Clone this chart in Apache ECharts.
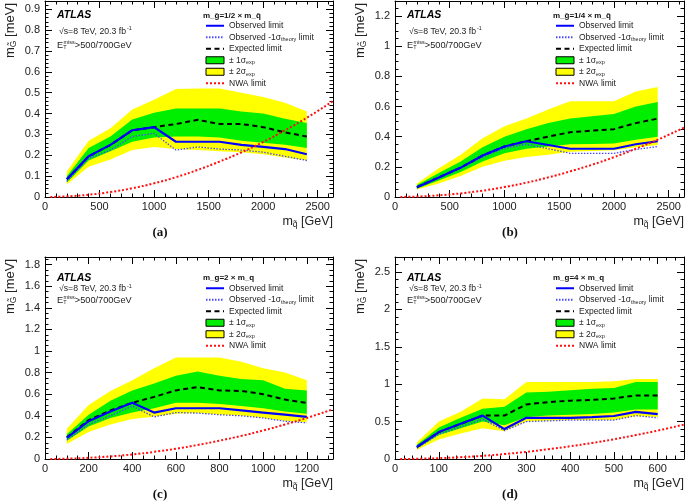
<!DOCTYPE html>
<html><head><meta charset="utf-8">
<script src="https://cdn.jsdelivr.net/npm/echarts@6/dist/echarts.min.js"></script>
<style>html,body{margin:0;padding:0;background:#fff}#c{width:685px;height:503px}</style>
</head><body><div id="c"></div>
<script>
// ---------- DATA ----------
// (a) m_gluino = 1/2 x m_squark
const xA = [200,400,600,800,1000,1200,1400,1600,1800,2000,2200,2400];
const obsA = [0.085,0.195,0.25,0.32,0.335,0.265,0.265,0.265,0.25,0.24,0.23,0.205];
const obsM1A = [0.075,0.185,0.225,0.29,0.305,0.225,0.24,0.23,0.225,0.215,0.195,0.175];
const expA = [0.085,0.195,0.25,0.32,0.335,0.35,0.37,0.35,0.35,0.335,0.31,0.29];
const p1A = [0.10,0.235,0.29,0.372,0.404,0.425,0.425,0.425,0.41,0.40,0.375,0.355];
const m1A = [0.07,0.175,0.22,0.265,0.285,0.29,0.29,0.285,0.27,0.26,0.25,0.235];
const p2A = [0.122,0.27,0.33,0.42,0.466,0.518,0.52,0.52,0.50,0.48,0.452,0.41];
const m2A = [0.06,0.145,0.18,0.225,0.24,0.23,0.225,0.22,0.215,0.205,0.19,0.175];
const nwaXA = [50,200,400,600,800,1000,1200,1400,1600,1800,2000,2200,2400,2640];
const nwaA = [0.0002,0.003,0.011,0.024,0.042,0.066,0.095,0.13,0.17,0.214,0.264,0.32,0.38,0.46];
// (b) m_gluino = 1/4 x m_squark
const xB = [200,400,600,800,1000,1200,1400,1600,1800,2000,2200,2400];
const obsB = [0.065,0.13,0.195,0.275,0.335,0.37,0.345,0.32,0.32,0.32,0.35,0.37];
const obsM1B = [0.06,0.125,0.19,0.265,0.325,0.35,0.32,0.29,0.29,0.29,0.315,0.335];
const expB = [0.065,0.13,0.195,0.275,0.335,0.37,0.40,0.43,0.44,0.45,0.49,0.52];
const p1B = [0.08,0.16,0.235,0.33,0.40,0.45,0.49,0.52,0.535,0.55,0.60,0.63];
const m1B = [0.055,0.11,0.165,0.235,0.29,0.32,0.335,0.35,0.352,0.355,0.38,0.40];
const p2B = [0.09,0.19,0.28,0.39,0.47,0.52,0.58,0.635,0.635,0.635,0.70,0.73];
const m2B = [0.05,0.09,0.14,0.20,0.24,0.265,0.28,0.30,0.305,0.31,0.33,0.345];
const nwaXB = [50,200,400,600,800,1000,1200,1400,1600,1800,2000,2200,2400,2640];
const nwaB = [0.0002,0.003,0.011,0.024,0.042,0.066,0.095,0.13,0.17,0.214,0.264,0.32,0.38,0.46];
// (c) m_gluino = 2 x m_squark
const xC = [100,200,300,400,500,600,700,800,900,1000,1100,1200];
const obsC = [0.195,0.35,0.44,0.52,0.43,0.47,0.47,0.47,0.45,0.43,0.41,0.39];
const obsM1C = [0.175,0.32,0.40,0.49,0.39,0.43,0.425,0.41,0.40,0.38,0.35,0.335];
const expC = [0.2,0.36,0.45,0.52,0.575,0.635,0.665,0.635,0.63,0.60,0.55,0.52];
const p1C = [0.23,0.41,0.54,0.635,0.70,0.77,0.81,0.77,0.74,0.73,0.65,0.635];
const m1C = [0.17,0.30,0.38,0.43,0.47,0.52,0.52,0.51,0.49,0.47,0.44,0.42];
const p2C = [0.28,0.50,0.63,0.73,0.84,0.94,0.94,0.94,0.90,0.84,0.80,0.73];
const m2C = [0.14,0.25,0.32,0.37,0.39,0.42,0.425,0.41,0.40,0.38,0.355,0.34];
const nwaXC = [25,100,200,300,400,500,600,700,800,900,1000,1100,1200,1320];
const nwaC = [0.0002,0.003,0.011,0.024,0.042,0.066,0.095,0.13,0.17,0.214,0.264,0.32,0.38,0.46];
// (d) m_gluino = 4 x m_squark
const xD = [50,100,150,200,250,300,350,400,450,500,550,600];
const obsD = [0.16,0.36,0.47,0.58,0.40,0.55,0.55,0.55,0.56,0.575,0.63,0.60];
const obsM1D = [0.145,0.33,0.43,0.53,0.38,0.50,0.51,0.52,0.52,0.52,0.58,0.55];
const expD = [0.16,0.36,0.47,0.58,0.58,0.73,0.76,0.78,0.79,0.81,0.85,0.85];
const p1D = [0.19,0.42,0.55,0.67,0.70,0.89,0.90,0.92,0.94,0.95,1.03,1.03];
const m1D = [0.14,0.32,0.41,0.50,0.45,0.56,0.58,0.59,0.60,0.62,0.66,0.66];
const p2D = [0.22,0.50,0.63,0.81,0.80,1.03,1.03,1.03,1.03,1.04,1.07,1.07];
const m2D = [0.12,0.26,0.34,0.41,0.37,0.50,0.51,0.52,0.52,0.52,0.57,0.56];
const nwaXD = [12,50,100,150,200,250,300,350,400,450,500,550,600,660];
const nwaD = [0.0002,0.003,0.011,0.024,0.042,0.066,0.095,0.13,0.17,0.214,0.264,0.32,0.38,0.46];

const headers = ['m_g\u0303=1/2 \u00d7 m_q\u0303','m_g\u0303=1/4 \u00d7 m_q\u0303','m_g\u0303=2 \u00d7 m_q\u0303','m_g\u0303=4 \u00d7 m_q\u0303'];
const panelLabels = ['(a)','(b)','(c)','(d)'];
const legendLabels = {
  obs:'Observed limit',
  obsm:'Observed -1\u03c3{sub|theory} limit',
  exp:'Expected limit',
  g1:'\u00b1 1\u03c3{sub|exp}',
  y2:'\u00b1 2\u03c3{sub|exp}',
  nwa:'NWA limit'
};

// ---------- LAYOUT / STYLE ----------
const FONT = '"Liberation Sans", Arial, Helvetica, sans-serif';
const GREEN = '#00ee00', YELLOW = '#ffff00';
// t: vertical offsets (from grid top) of [header/ATLAS, sqrt(s), ETmiss, first legend item top]
const panels = [
  {k:'a', x:xA, obs:obsA, obsm:obsM1A, exp:expA, p1:p1A, m1:m1A, p2:p2A, m2:m2A, nx:nwaXA, ny:nwaA,
   g:{left:45, top:1, w:288, h:196}, xmax:2640, xi:500, xm:5, ymax:0.94, yi:0.1, ym:5, t:[14.5,30.5,44,19]},
  {k:'b', x:xB, obs:obsB, obsm:obsM1B, exp:expB, p1:p1B, m1:m1B, p2:p2B, m2:m2B, nx:nwaXB, ny:nwaB,
   g:{left:395, top:1, w:289, h:196}, xmax:2640, xi:500, xm:5, ymax:1.30, yi:0.2, ym:4, t:[14.5,30.5,44,19]},
  {k:'c', x:xC, obs:obsC, obsm:obsM1C, exp:expC, p1:p1C, m1:m1C, p2:p2C, m2:m2C, nx:nwaXC, ny:nwaC,
   g:{left:45, top:257, w:288, h:202}, xmax:1320, xi:200, xm:4, ymax:1.87, yi:0.2, ym:4, t:[21,32,43,25.5]},
  {k:'d', x:xD, obs:obsD, obsm:obsM1D, exp:expD, p1:p1D, m1:m1D, p2:p2D, m2:m2D, nx:nwaXD, ny:nwaD,
   g:{left:395, top:257, w:289, h:202}, xmax:660, xi:100, xm:5, ymax:2.70, yi:0.5, ym:5, t:[21,32,43,25.5]}
];

function zip(xs, ys){ return xs.map((x,i)=>[x, ys[i]]); }
function bandRows(xs, lo, hi){ return xs.map((x,i)=>[x, lo[i], hi[i]]); }
function bandRender(rows, color){
  return function(params, api){
    if (params.dataIndex !== 0) return null;
    const upper = rows.map(r => api.coord([r[0], r[2]]));
    const lower = rows.map(r => api.coord([r[0], r[1]])).reverse();
    return {type:'polygon', shape:{points: upper.concat(lower)}, style:{fill:color, stroke:null}};
  };
}
const fmt = v => String(Math.round(v*1000)/1000);

const grids=[], xAxes=[], yAxes=[], series=[], legends=[], graphics=[];
const axLine = {show:true, onZero:false, lineStyle:{color:'#000', width:1}};
const LH = 11.5;
const richSub = {sub:{fontSize:5.5, lineHeight:LH, padding:[5,0,0,0], fontFamily:FONT, color:'#222'}};

panels.forEach((p, i) => {
  const g = p.g;
  grids.push({left:g.left, top:g.top, width:g.w, height:g.h, containLabel:false});
  const xBase = {type:'value', gridIndex:i, min:0, max:p.xmax, interval:p.xi, splitLine:{show:false},
    axisLine:axLine, axisTick:{inside:true, length:7, lineStyle:{color:'#000'}},
    minorTick:{show:true, splitNumber:p.xm, length:3.5, lineStyle:{color:'#000'}}};
  xAxes.push(Object.assign({}, xBase, {position:'bottom',
    axisLabel:{show:true, margin:4, fontSize:11, fontFamily:FONT, color:'#222', showMaxLabel:false, formatter:fmt}}));
  xAxes.push(Object.assign({}, xBase, {position:'top', axisLabel:{show:false}}));
  const yBase = {type:'value', gridIndex:i, min:0, max:p.ymax, interval:p.yi, splitLine:{show:false},
    axisLine:axLine, axisTick:{inside:true, length:7, lineStyle:{color:'#000'}},
    minorTick:{show:true, splitNumber:p.ym, length:3.5, lineStyle:{color:'#000'}}};
  yAxes.push(Object.assign({}, yBase, {position:'left',
    axisLabel:{show:true, margin:5, fontSize:11, fontFamily:FONT, color:'#222', showMaxLabel:false, formatter:fmt}}));
  yAxes.push(Object.assign({}, yBase, {position:'right', axisLabel:{show:false}}));

  const ax = {xAxisIndex:2*i, yAxisIndex:2*i};
  const k = p.k;
  const rowsY = bandRows(p.x, p.m2, p.p2);
  const rowsG = bandRows(p.x, p.m1, p.p1);
  series.push(Object.assign({type:'custom', name:k+':y2', data:rowsY, renderItem:bandRender(rowsY, YELLOW),
    itemStyle:{color:YELLOW}, encode:{x:0, y:[1,2]}, silent:true, z:1, animation:false}, ax));
  series.push(Object.assign({type:'custom', name:k+':g1', data:rowsG, renderItem:bandRender(rowsG, GREEN),
    itemStyle:{color:GREEN}, encode:{x:0, y:[1,2]}, silent:true, z:2, animation:false}, ax));
  series.push(Object.assign({type:'line', name:k+':obsm', data:zip(p.x, p.obsm), symbol:'none', color:'#4a4aff',
    lineStyle:{color:'#4a4aff', width:1.3, type:[1.5,1.5]}, z:3, animation:false}, ax));
  series.push(Object.assign({type:'line', name:k+':exp', data:zip(p.x, p.exp), symbol:'none', color:'#000',
    lineStyle:{color:'#000', width:2, type:[5,3.5]}, z:4, animation:false}, ax));
  series.push(Object.assign({type:'line', name:k+':obs', data:zip(p.x, p.obs), symbol:'none', color:'#0000ff',
    lineStyle:{color:'#0000ff', width:2.2}, z:5, animation:false}, ax));
  series.push(Object.assign({type:'line', name:k+':nwa', data:zip(p.nx, p.ny), symbol:'none', smooth:true, color:'#ff1010',
    lineStyle:{color:'#ff1010', width:2, type:[2,2]}, z:6, animation:false}, ax));

  const hide = {opacity:0};
  legends.push({
    left:g.left+160, top:g.top+p.t[3], orient:'vertical', itemWidth:18, itemHeight:7, itemGap:0,
    selectedMode:false, padding:0,
    data:[
      {name:k+':obs', itemStyle:hide},
      {name:k+':obsm', itemStyle:hide},
      {name:k+':exp', itemStyle:hide},
      {name:k+':g1', icon:'rect', itemStyle:{color:GREEN, borderColor:'#000', borderWidth:1}},
      {name:k+':y2', icon:'rect', itemStyle:{color:YELLOW, borderColor:'#000', borderWidth:1}},
      {name:k+':nwa', itemStyle:hide}
    ],
    formatter: n => legendLabels[n.split(':')[1]],
    textStyle:{fontFamily:FONT, fontSize:8.5, lineHeight:LH, color:'#222', rich:richSub}
  });

  // annotations
  graphics.push({type:'text', x:g.left+158, y:g.top+p.t[0], silent:true,
    style:{text:headers[i], font:'bold 8px '+FONT, fill:'#111', verticalAlign:'middle'}});
  graphics.push({type:'text', x:g.left+12, y:g.top+p.t[0], silent:true,
    style:{text:'ATLAS', font:'italic bold 10.5px '+FONT, fill:'#000', verticalAlign:'middle'}});
  graphics.push({type:'text', x:g.left+14, y:g.top+p.t[1], silent:true,
    style:{text:'\u221as=8 TeV, 20.3 fb{sup|-1}', font:'8.7px '+FONT, fill:'#222', verticalAlign:'middle',
      rich:{sup:{fontSize:5.5, padding:[0,0,6,1], fontFamily:FONT, fill:'#222'}}}});
  graphics.push({type:'text', x:g.left+12, y:g.top+p.t[2], silent:true,
    style:{text:'E{sub|T}{sup|miss}>500/700GeV', font:'9.2px '+FONT, fill:'#222', verticalAlign:'middle',
      rich:{sub:{fontSize:5.5, padding:[5,0,0,0], fontFamily:FONT, fill:'#222'},
            sup:{fontSize:5.5, padding:[0,0,6,-3], fontFamily:FONT, fill:'#222'}}}});
  // axis titles
  graphics.push({type:'text', x:g.left-35, y:g.top+2, rotation:Math.PI/2, silent:true,
    style:{text:'m{sub|G\u0303} [meV]', font:'13px '+FONT, fill:'#222', align:'right', verticalAlign:'middle',
      rich:{sub:{fontSize:8.5, padding:[7,0,0,0], fontFamily:FONT, fill:'#222'}}}});
  graphics.push({type:'text', x:g.left+g.w, y:g.top+g.h+25, silent:true,
    style:{text:'m{sub|q\u0303} [GeV]', font:'12.5px '+FONT, fill:'#222', align:'right', verticalAlign:'middle',
      rich:{sub:{fontSize:8.5, padding:[6,0,0,0], fontFamily:FONT, fill:'#222'}}}});
  graphics.push({type:'text', x:g.left+115, y:g.top+g.h+36, silent:true,
    style:{text:panelLabels[i], font:'bold 13px "Liberation Serif", "Times New Roman", serif', fill:'#111', align:'center', verticalAlign:'middle'}});
});

const chart = echarts.init(document.getElementById('c'), null, {renderer:'canvas'});
chart.setOption({
  animation:false,
  backgroundColor:'#fff',
  grid:grids, xAxis:xAxes, yAxis:yAxes, series:series, legend:legends,
  graphic:{elements:graphics}
});
</script></body></html>
